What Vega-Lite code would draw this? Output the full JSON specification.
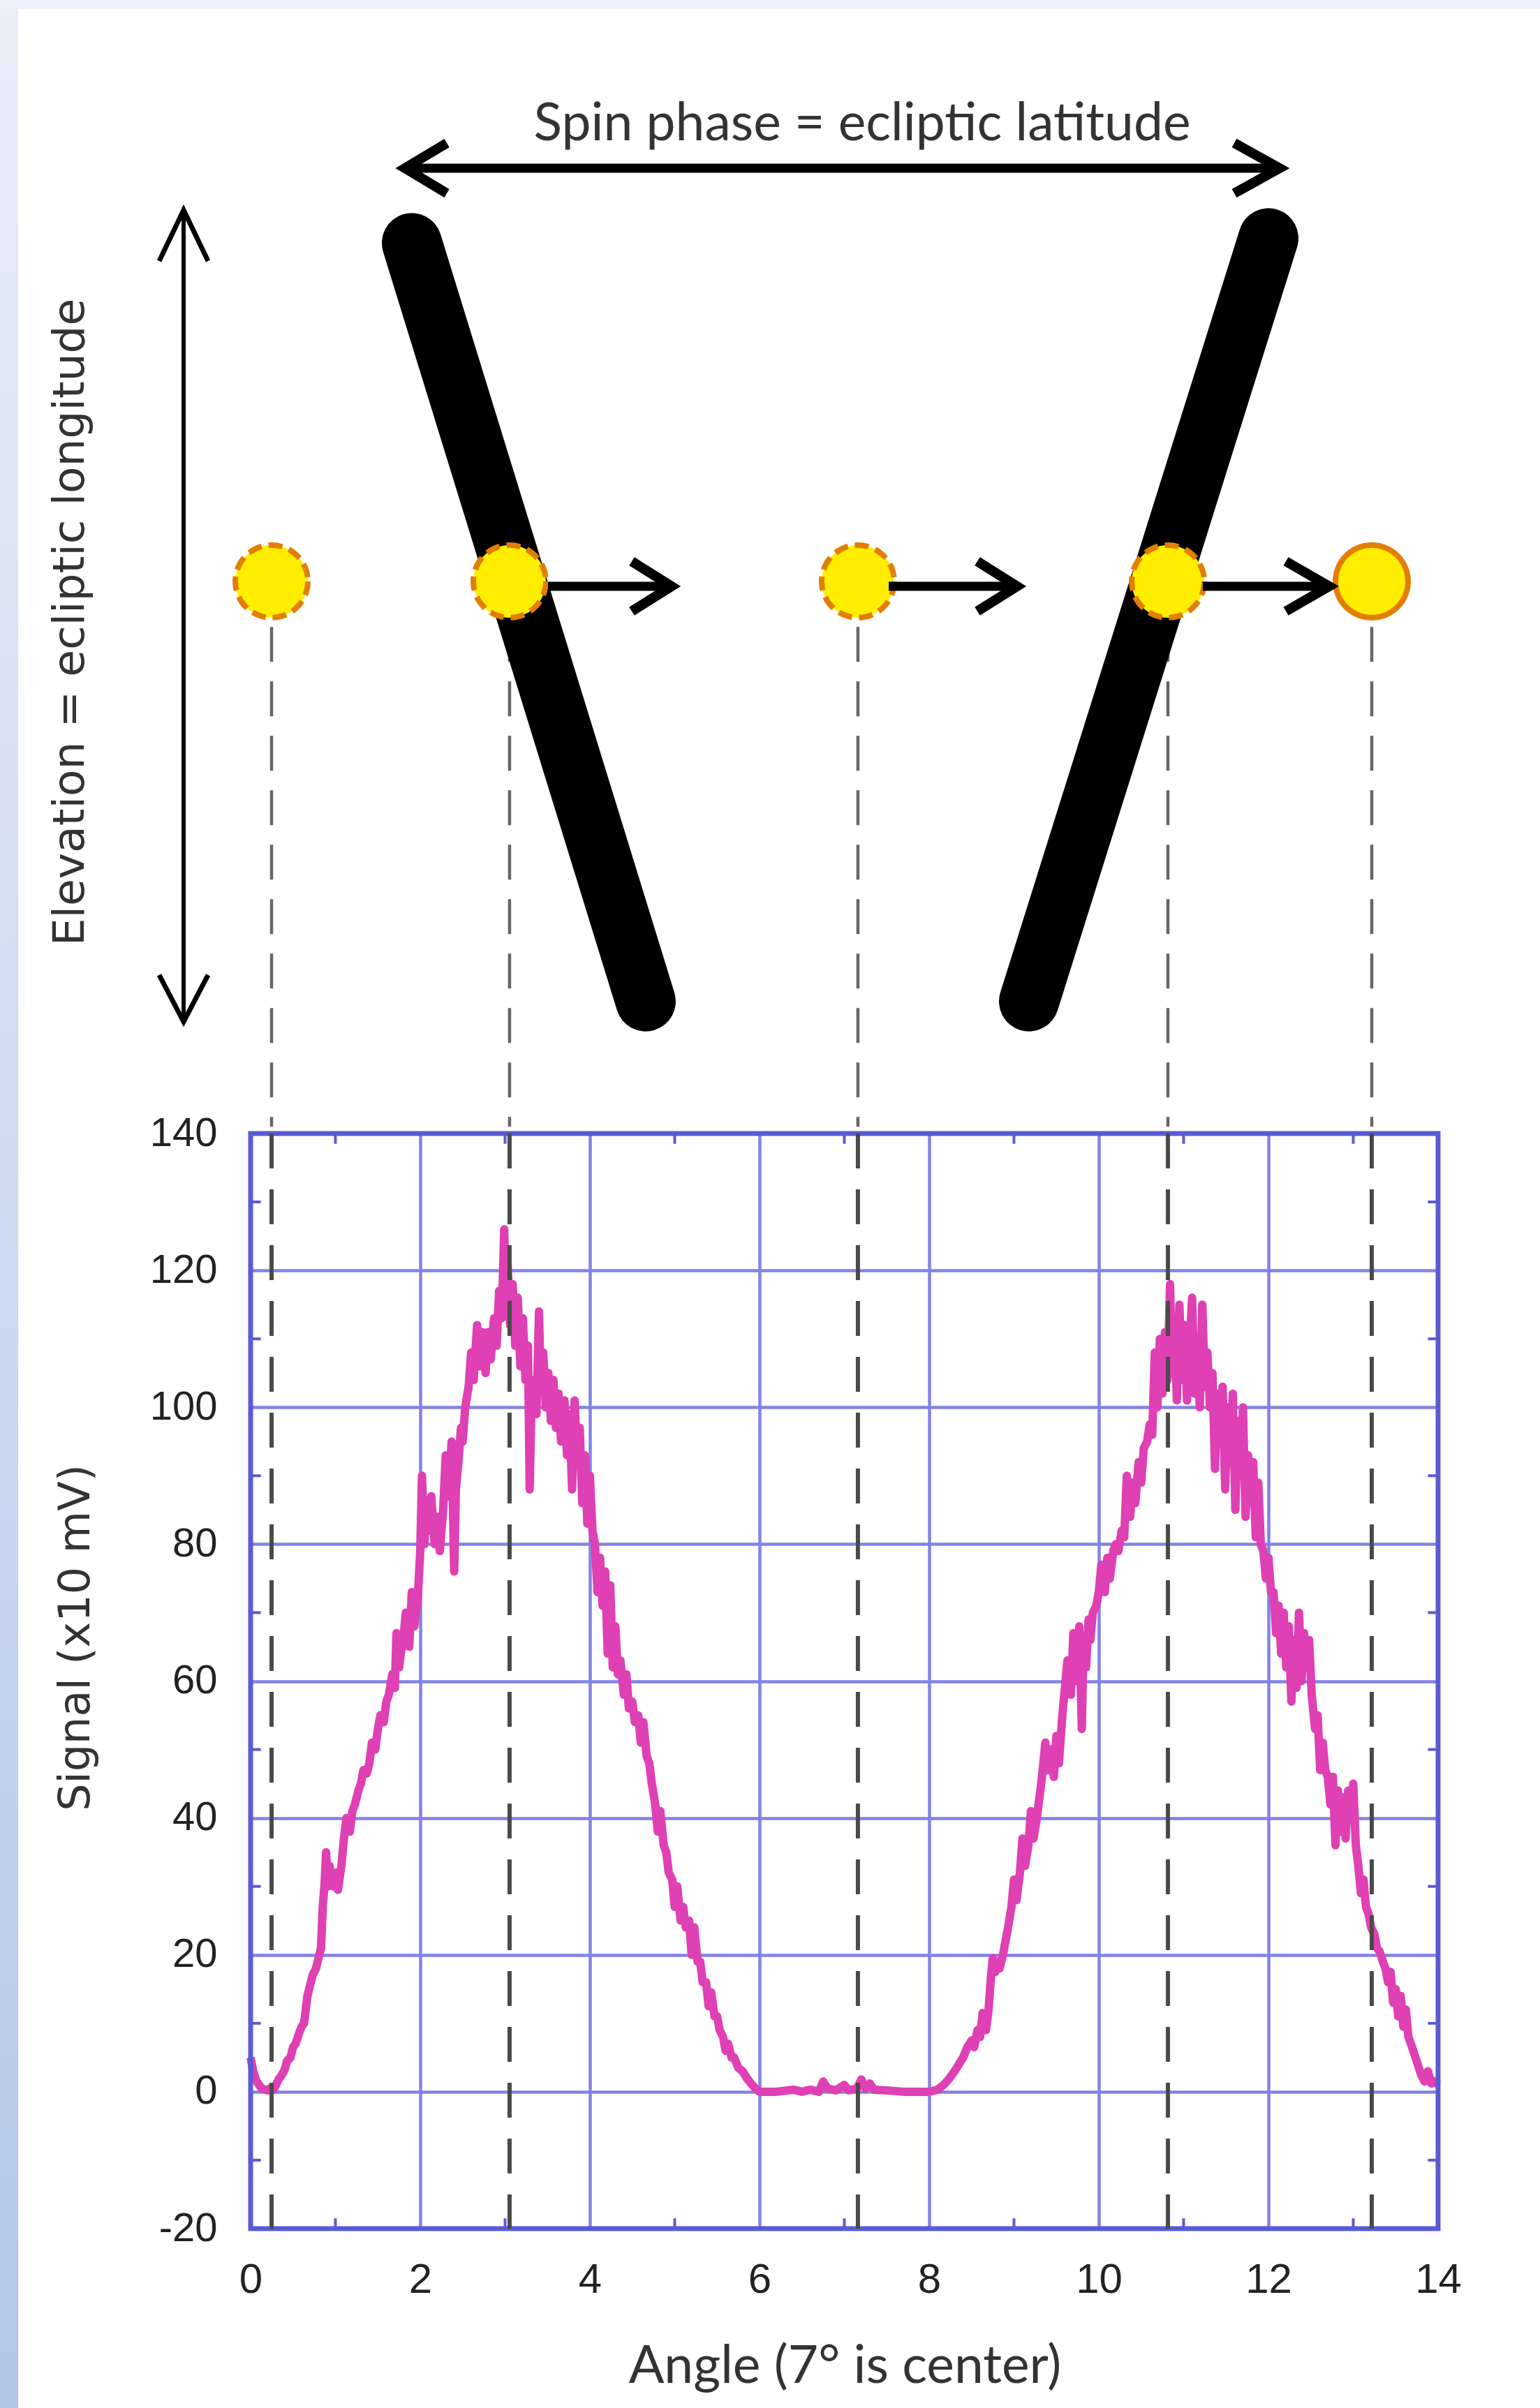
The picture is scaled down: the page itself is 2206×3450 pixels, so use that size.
{
  "$schema": "https://vega.github.io/schema/vega-lite/v6.json",
  "width": 1701,
  "height": 1569,
  "autosize": {"type": "none"},
  "padding": {"left": 359, "top": 1624, "right": 146, "bottom": 257},
  "background": "#ffffff",
  "config": {"view": {"stroke": null}},
  "datasets": {
    "signal": [
      {"angle":0,"signal":5},{"angle":0.03,"signal":3},{"angle":0.07,"signal":1.5},{"angle":0.1,"signal":1},{"angle":0.13,"signal":0.5},{"angle":0.17,"signal":0.3},{"angle":0.2,"signal":0.2},{"angle":0.23,"signal":0.5},{"angle":0.27,"signal":0.3},{"angle":0.3,"signal":1},{"angle":0.33,"signal":1.8},{"angle":0.37,"signal":2.5},{"angle":0.4,"signal":3.2},{"angle":0.43,"signal":4.5},{"angle":0.47,"signal":5},{"angle":0.5,"signal":6.5},{"angle":0.53,"signal":7},{"angle":0.57,"signal":8.5},{"angle":0.6,"signal":9.5},{"angle":0.63,"signal":10},{"angle":0.67,"signal":14},{"angle":0.7,"signal":15.5},{"angle":0.73,"signal":17},{"angle":0.77,"signal":18},{"angle":0.8,"signal":19.5},{"angle":0.83,"signal":21},{"angle":0.85,"signal":27},{"angle":0.87,"signal":30},{"angle":0.89,"signal":35},{"angle":0.91,"signal":30},{"angle":0.93,"signal":33},{"angle":0.97,"signal":30},
      {"angle":1,"signal":32},{"angle":1.03,"signal":29.5},{"angle":1.07,"signal":33},{"angle":1.1,"signal":37},{"angle":1.13,"signal":40},{"angle":1.17,"signal":38},{"angle":1.2,"signal":41},{"angle":1.23,"signal":42},{"angle":1.27,"signal":44},{"angle":1.3,"signal":45},{"angle":1.33,"signal":47},{"angle":1.37,"signal":46.5},{"angle":1.4,"signal":48},{"angle":1.43,"signal":51},{"angle":1.47,"signal":50},{"angle":1.5,"signal":53},{"angle":1.53,"signal":55},{"angle":1.57,"signal":54},{"angle":1.6,"signal":57},{"angle":1.63,"signal":58},{"angle":1.67,"signal":61},{"angle":1.7,"signal":59},{"angle":1.72,"signal":67},{"angle":1.75,"signal":62},{"angle":1.77,"signal":64},{"angle":1.8,"signal":66},{"angle":1.83,"signal":70},{"angle":1.87,"signal":65},{"angle":1.9,"signal":73},{"angle":1.93,"signal":68},{"angle":1.97,"signal":72},
      {"angle":2,"signal":79},{"angle":2.02,"signal":90},{"angle":2.05,"signal":80},{"angle":2.07,"signal":86},{"angle":2.1,"signal":82},{"angle":2.13,"signal":87},{"angle":2.17,"signal":80},{"angle":2.2,"signal":84},{"angle":2.23,"signal":79},{"angle":2.27,"signal":85},{"angle":2.3,"signal":93},{"angle":2.33,"signal":87},{"angle":2.37,"signal":95},{"angle":2.4,"signal":76},{"angle":2.42,"signal":88},{"angle":2.45,"signal":92},{"angle":2.48,"signal":97},{"angle":2.5,"signal":95},{"angle":2.53,"signal":100},{"angle":2.57,"signal":103},{"angle":2.6,"signal":108},{"angle":2.63,"signal":104},{"angle":2.67,"signal":112},{"angle":2.7,"signal":106},{"angle":2.73,"signal":111},{"angle":2.77,"signal":105},{"angle":2.8,"signal":111},{"angle":2.83,"signal":107},{"angle":2.87,"signal":113},{"angle":2.9,"signal":109},{"angle":2.93,"signal":117},{"angle":2.96,"signal":113},{"angle":2.99,"signal":126},
      {"angle":3.01,"signal":115},{"angle":3.03,"signal":121},{"angle":3.06,"signal":112},{"angle":3.09,"signal":118},{"angle":3.12,"signal":109},{"angle":3.15,"signal":116},{"angle":3.18,"signal":106},{"angle":3.21,"signal":113},{"angle":3.24,"signal":104},{"angle":3.27,"signal":109},{"angle":3.29,"signal":88},{"angle":3.31,"signal":100},{"angle":3.34,"signal":104},{"angle":3.37,"signal":99},{"angle":3.4,"signal":114},{"angle":3.42,"signal":103},{"angle":3.45,"signal":108},{"angle":3.48,"signal":100},{"angle":3.51,"signal":105},{"angle":3.54,"signal":98},{"angle":3.57,"signal":104},{"angle":3.6,"signal":97},{"angle":3.63,"signal":102},{"angle":3.66,"signal":95},{"angle":3.7,"signal":101},{"angle":3.73,"signal":93},{"angle":3.76,"signal":99},{"angle":3.79,"signal":88},{"angle":3.82,"signal":101},{"angle":3.85,"signal":92},{"angle":3.88,"signal":97},{"angle":3.91,"signal":86},{"angle":3.94,"signal":93},{"angle":3.97,"signal":83},
      {"angle":4,"signal":90},{"angle":4.03,"signal":82},{"angle":4.06,"signal":80},{"angle":4.09,"signal":73},{"angle":4.12,"signal":78},{"angle":4.15,"signal":71},{"angle":4.18,"signal":76},{"angle":4.21,"signal":64},{"angle":4.24,"signal":74},{"angle":4.27,"signal":62},{"angle":4.3,"signal":68},{"angle":4.33,"signal":61},{"angle":4.36,"signal":63},{"angle":4.4,"signal":58},{"angle":4.43,"signal":61},{"angle":4.46,"signal":56},{"angle":4.5,"signal":57},{"angle":4.53,"signal":54},{"angle":4.57,"signal":55},{"angle":4.6,"signal":51},{"angle":4.63,"signal":54},{"angle":4.67,"signal":49},{"angle":4.7,"signal":48},{"angle":4.73,"signal":45},{"angle":4.77,"signal":42},{"angle":4.8,"signal":38},{"angle":4.83,"signal":41},{"angle":4.87,"signal":36},{"angle":4.9,"signal":35},{"angle":4.93,"signal":32},{"angle":4.97,"signal":31},
      {"angle":5,"signal":27},{"angle":5.03,"signal":30},{"angle":5.07,"signal":25},{"angle":5.1,"signal":27},{"angle":5.13,"signal":24},{"angle":5.17,"signal":25},{"angle":5.2,"signal":20},{"angle":5.23,"signal":24},{"angle":5.27,"signal":19},{"angle":5.3,"signal":19},{"angle":5.33,"signal":16},{"angle":5.37,"signal":16},{"angle":5.4,"signal":12.5},{"angle":5.43,"signal":14.5},{"angle":5.47,"signal":11},{"angle":5.5,"signal":11},{"angle":5.53,"signal":9},{"angle":5.57,"signal":8},{"angle":5.6,"signal":6},{"angle":5.63,"signal":7},{"angle":5.67,"signal":5},{"angle":5.7,"signal":5},{"angle":5.75,"signal":3.5},{"angle":5.8,"signal":3},{"angle":5.85,"signal":2},{"angle":5.9,"signal":1.2},{"angle":5.95,"signal":0.5},
      {"angle":6,"signal":0},{"angle":6.2,"signal":0},{"angle":6.4,"signal":0.3},{"angle":6.5,"signal":0},{"angle":6.6,"signal":0.3},{"angle":6.7,"signal":0},{"angle":6.75,"signal":1.5},{"angle":6.8,"signal":0.5},{"angle":6.9,"signal":0.2},{"angle":7,"signal":1},{"angle":7.05,"signal":0.2},{"angle":7.15,"signal":0.5},{"angle":7.2,"signal":1.8},{"angle":7.25,"signal":0.5},{"angle":7.3,"signal":1.2},{"angle":7.35,"signal":0.3},{"angle":7.5,"signal":0.2},{"angle":7.7,"signal":0},{"angle":7.9,"signal":0},
      {"angle":8,"signal":0},{"angle":8.1,"signal":0.3},{"angle":8.17,"signal":1},{"angle":8.23,"signal":1.8},{"angle":8.3,"signal":3},{"angle":8.35,"signal":4},{"angle":8.4,"signal":5},{"angle":8.45,"signal":6.5},{"angle":8.5,"signal":7.5},{"angle":8.53,"signal":6.5},{"angle":8.57,"signal":9},{"angle":8.6,"signal":8},{"angle":8.63,"signal":11.5},{"angle":8.67,"signal":9},{"angle":8.7,"signal":12},{"angle":8.73,"signal":17},{"angle":8.75,"signal":19.5},{"angle":8.78,"signal":17.5},{"angle":8.8,"signal":19},{"angle":8.83,"signal":18},{"angle":8.87,"signal":20},{"angle":8.9,"signal":22},{"angle":8.93,"signal":24},{"angle":8.97,"signal":27},
      {"angle":9,"signal":31},{"angle":9.03,"signal":28},{"angle":9.07,"signal":32},{"angle":9.1,"signal":37},{"angle":9.13,"signal":33},{"angle":9.17,"signal":36},{"angle":9.2,"signal":41},{"angle":9.23,"signal":37},{"angle":9.27,"signal":40},{"angle":9.3,"signal":43},{"angle":9.33,"signal":46},{"angle":9.37,"signal":51},{"angle":9.4,"signal":47},{"angle":9.43,"signal":50},{"angle":9.47,"signal":46},{"angle":9.5,"signal":52},{"angle":9.53,"signal":48},{"angle":9.57,"signal":55},{"angle":9.6,"signal":59},{"angle":9.63,"signal":63},{"angle":9.67,"signal":58},{"angle":9.7,"signal":67},{"angle":9.73,"signal":60},{"angle":9.77,"signal":68},{"angle":9.8,"signal":53},{"angle":9.82,"signal":66},{"angle":9.85,"signal":62},{"angle":9.88,"signal":69},{"angle":9.9,"signal":66},{"angle":9.93,"signal":70},{"angle":9.97,"signal":71},
      {"angle":10,"signal":73},{"angle":10.03,"signal":77},{"angle":10.07,"signal":73},{"angle":10.1,"signal":78},{"angle":10.13,"signal":75},{"angle":10.17,"signal":79},{"angle":10.2,"signal":80},{"angle":10.23,"signal":79},{"angle":10.27,"signal":82},{"angle":10.3,"signal":81},{"angle":10.33,"signal":90},{"angle":10.37,"signal":84},{"angle":10.4,"signal":89},{"angle":10.43,"signal":86},{"angle":10.47,"signal":92},{"angle":10.5,"signal":89},{"angle":10.53,"signal":94},{"angle":10.57,"signal":95},{"angle":10.6,"signal":97.5},{"angle":10.63,"signal":96},{"angle":10.66,"signal":108},{"angle":10.69,"signal":100},{"angle":10.72,"signal":110},{"angle":10.75,"signal":102},{"angle":10.78,"signal":111},{"angle":10.81,"signal":104},{"angle":10.84,"signal":118},{"angle":10.86,"signal":106},{"angle":10.89,"signal":113},{"angle":10.92,"signal":101},{"angle":10.95,"signal":115},{"angle":10.98,"signal":104},
      {"angle":11.01,"signal":112},{"angle":11.04,"signal":101},{"angle":11.07,"signal":109},{"angle":11.1,"signal":116},{"angle":11.13,"signal":102},{"angle":11.16,"signal":110},{"angle":11.19,"signal":100},{"angle":11.22,"signal":115},{"angle":11.25,"signal":103},{"angle":11.28,"signal":108},{"angle":11.31,"signal":100},{"angle":11.34,"signal":105},{"angle":11.37,"signal":91},{"angle":11.4,"signal":102},{"angle":11.43,"signal":96},{"angle":11.46,"signal":103},{"angle":11.49,"signal":88},{"angle":11.52,"signal":100},{"angle":11.55,"signal":92},{"angle":11.58,"signal":102},{"angle":11.61,"signal":85},{"angle":11.64,"signal":98},{"angle":11.67,"signal":90},{"angle":11.7,"signal":100},{"angle":11.73,"signal":84},{"angle":11.76,"signal":93},{"angle":11.79,"signal":86},{"angle":11.82,"signal":92},{"angle":11.85,"signal":81},{"angle":11.88,"signal":89},{"angle":11.91,"signal":80},{"angle":11.94,"signal":79},{"angle":11.97,"signal":75},
      {"angle":12,"signal":78},{"angle":12.03,"signal":73},{"angle":12.06,"signal":73},{"angle":12.09,"signal":67},{"angle":12.12,"signal":71},{"angle":12.15,"signal":64},{"angle":12.18,"signal":70},{"angle":12.21,"signal":62},{"angle":12.24,"signal":68},{"angle":12.27,"signal":57},{"angle":12.3,"signal":66},{"angle":12.33,"signal":59},{"angle":12.36,"signal":70},{"angle":12.39,"signal":60},{"angle":12.42,"signal":67},{"angle":12.45,"signal":62},{"angle":12.48,"signal":66},{"angle":12.51,"signal":58},{"angle":12.55,"signal":53},{"angle":12.58,"signal":55},{"angle":12.61,"signal":47},{"angle":12.64,"signal":51},{"angle":12.67,"signal":47},{"angle":12.7,"signal":46},{"angle":12.73,"signal":42},{"angle":12.76,"signal":46},{"angle":12.79,"signal":36},{"angle":12.82,"signal":44},{"angle":12.85,"signal":38},{"angle":12.88,"signal":43},{"angle":12.91,"signal":37},{"angle":12.94,"signal":44},{"angle":12.97,"signal":40},
      {"angle":13,"signal":45},{"angle":13.03,"signal":36},{"angle":13.06,"signal":33},{"angle":13.09,"signal":29},{"angle":13.12,"signal":31},{"angle":13.15,"signal":27},{"angle":13.18,"signal":26},{"angle":13.21,"signal":24},{"angle":13.25,"signal":23},{"angle":13.28,"signal":21},{"angle":13.31,"signal":20.5},{"angle":13.35,"signal":19},{"angle":13.38,"signal":18},{"angle":13.41,"signal":16},{"angle":13.44,"signal":17.5},{"angle":13.47,"signal":13},{"angle":13.5,"signal":15},{"angle":13.53,"signal":11},{"angle":13.56,"signal":14},{"angle":13.59,"signal":9.5},{"angle":13.62,"signal":12},{"angle":13.65,"signal":8},{"angle":13.68,"signal":7},{"angle":13.72,"signal":5.5},{"angle":13.76,"signal":4},{"angle":13.8,"signal":2.5},{"angle":13.84,"signal":1.5},{"angle":13.88,"signal":3},{"angle":13.92,"signal":1.2},{"angle":13.96,"signal":1.5},{"angle":14,"signal":1}
    ],
    "leftStrip": [{"x": -2.96, "x2": -2.74, "y": 306, "y2": -47}],
    "topStrip": [{"x": -2.96, "x2": 15.3, "y": 306, "y2": 304.3}],
    "vTicks": [
      {"x":1,"y":-20,"y2":-18.5},{"x":3,"y":-20,"y2":-18.5},{"x":5,"y":-20,"y2":-18.5},{"x":7,"y":-20,"y2":-18.5},{"x":9,"y":-20,"y2":-18.5},{"x":11,"y":-20,"y2":-18.5},{"x":13,"y":-20,"y2":-18.5},
      {"x":1,"y":140,"y2":138.5},{"x":3,"y":140,"y2":138.5},{"x":5,"y":140,"y2":138.5},{"x":7,"y":140,"y2":138.5},{"x":9,"y":140,"y2":138.5},{"x":11,"y":140,"y2":138.5},{"x":13,"y":140,"y2":138.5}
    ],
    "hTicks": [
      {"x":0,"x2":0.12,"y":-10},{"x":0,"x2":0.12,"y":10},{"x":0,"x2":0.12,"y":30},{"x":0,"x2":0.12,"y":50},{"x":0,"x2":0.12,"y":70},{"x":0,"x2":0.12,"y":90},{"x":0,"x2":0.12,"y":110},{"x":0,"x2":0.12,"y":130},
      {"x":14,"x2":13.88,"y":-10},{"x":14,"x2":13.88,"y":10},{"x":14,"x2":13.88,"y":30},{"x":14,"x2":13.88,"y":50},{"x":14,"x2":13.88,"y":70},{"x":14,"x2":13.88,"y":90},{"x":14,"x2":13.88,"y":110},{"x":14,"x2":13.88,"y":130}
    ],
    "frame": [{"x": 0, "x2": 14, "y": -20, "y2": 140}],
    "guides": [{"x": 0.247}, {"x": 3.053}, {"x": 7.16}, {"x": 10.815}, {"x": 13.218}],
    "bars": [
      {"x": 1.901, "y": 270.1, "x2": 4.658, "y2": 159.3},
      {"x": 12.0, "y": 270.8, "x2": 9.177, "y2": 159.3}
    ],
    "circles": [
      {"x": 0.247, "y": 220.67, "rim": "dashed"},
      {"x": 3.053, "y": 220.67, "rim": "dashed"},
      {"x": 7.16, "y": 220.67, "rim": "dashed"},
      {"x": 10.815, "y": 220.67, "rim": "dashed"},
      {"x": 13.218, "y": 220.67, "rim": "solid"}
    ],
    "shafts": [
      {"x": 1.82, "x2": 12.13, "y": 281.04},
      {"x": 3.506, "x2": 4.905, "y": 219.95},
      {"x": 7.523, "x2": 8.979, "y": 219.95},
      {"x": 11.226, "x2": 12.658, "y": 219.95}
    ],
    "vShaft": [{"x": -0.79, "y": 274.9, "y2": 156.3}],
    "heads": [
      {"g":"t1","o":1,"x":2.313,"y":284.71},{"g":"t1","o":2,"x":1.819,"y":281.04},{"g":"t1","o":3,"x":2.313,"y":277.37},
      {"g":"t2","o":1,"x":11.597,"y":284.71},{"g":"t2","o":2,"x":12.132,"y":281.04},{"g":"t2","o":3,"x":11.597,"y":277.37},
      {"g":"a2","o":1,"x":4.494,"y":223.6},{"g":"a2","o":2,"x":4.963,"y":219.95},{"g":"a2","o":3,"x":4.494,"y":216.3},
      {"g":"a3","o":1,"x":8.568,"y":223.6},{"g":"a3","o":2,"x":9.037,"y":219.95},{"g":"a3","o":3,"x":8.568,"y":216.3},
      {"g":"a4","o":1,"x":12.206,"y":223.6},{"g":"a4","o":2,"x":12.716,"y":219.95},{"g":"a4","o":3,"x":12.206,"y":216.3}
    ],
    "vHeads": [
      {"g":"v1","o":1,"x":-1.078,"y":267.47},{"g":"v1","o":2,"x":-0.79,"y":274.92},{"g":"v1","o":3,"x":-0.502,"y":267.47},
      {"g":"v2","o":1,"x":-1.078,"y":163.15},{"g":"v2","o":2,"x":-0.79,"y":156.32},{"g":"v2","o":3,"x":-0.502,"y":163.15}
    ],
    "topLabel": [{"x": 7.21, "y": 285.1, "text": "Spin phase = ecliptic latitude"}],
    "sideLabel": [{"x": -2.123, "y": 214.7, "text": "Elevation = ecliptic longitude"}]
  },
  "layer": [
    {
      "data": {"name": "signal"},
      "mark": {"type": "line", "color": "#DF40B3", "strokeWidth": 12, "strokeJoin": "round"},
      "encoding": {
        "x": {
          "field": "angle", "type": "quantitative",
          "scale": {"domain": [0, 14], "nice": false, "zero": false},
          "axis": {
            "values": [0, 2, 4, 6, 8, 10, 12, 14], "format": "d",
            "grid": true, "gridColor": "#8282E6", "gridWidth": 4.5,
            "domain": false, "ticks": false,
            "labelPadding": 44, "labelFont": "Liberation Sans", "labelFontSize": 60, "labelColor": "#222222",
            "labelFlush": false, "labelOverlap": false,
            "title": "Angle (7° is center)", "titleFont": "Lato", "titleFontSize": 75,
            "titleFontWeight": "normal", "titleColor": "#333333",
            "titleX": 851, "titleY": 220, "titleBaseline": "alphabetic", "titleAlign": "center"
          }
        },
        "y": {
          "field": "signal", "type": "quantitative",
          "scale": {"domain": [-20, 140], "nice": false, "zero": false},
          "axis": {
            "values": [-20, 0, 20, 40, 60, 80, 100, 120, 140],
            "labelExpr": "'' + datum.value",
            "grid": true, "gridColor": "#8282E6", "gridWidth": 4.5,
            "domain": false, "ticks": false,
            "labelPadding": 48, "labelFont": "Liberation Sans", "labelFontSize": 58, "labelColor": "#222222",
            "labelFlush": false, "labelOverlap": false,
            "title": "Signal (x10 mV)", "titleFont": "DejaVu Sans", "titleFontSize": 62,
            "titleFontWeight": "normal", "titleColor": "#333333",
            "titleX": -251, "titleY": 722, "titleAngle": 270, "titleAlign": "center", "titleBaseline": "middle"
          }
        }
      }
    },
    {
      "data": {"name": "leftStrip"},
      "mark": {"type": "rect", "fill": {"gradient": "linear", "x1": 0, "y1": 0, "x2": 0, "y2": 1, "stops": [{"offset": 0, "color": "#E9EEF8"}, {"offset": 1, "color": "#B3C6E8"}]}},
      "encoding": {
        "x": {"field": "x", "type": "quantitative"}, "x2": {"field": "x2"},
        "y": {"field": "y", "type": "quantitative"}, "y2": {"field": "y2"}
      }
    },
    {
      "data": {"name": "topStrip"},
      "mark": {"type": "rect", "fill": "#EBF0F9"},
      "encoding": {
        "x": {"field": "x", "type": "quantitative"}, "x2": {"field": "x2"},
        "y": {"field": "y", "type": "quantitative"}, "y2": {"field": "y2"}
      }
    },
    {
      "data": {"name": "vTicks"},
      "mark": {"type": "rule", "color": "#5A5AD2", "strokeWidth": 4},
      "encoding": {
        "x": {"field": "x", "type": "quantitative"},
        "y": {"field": "y", "type": "quantitative"}, "y2": {"field": "y2"}
      }
    },
    {
      "data": {"name": "hTicks"},
      "mark": {"type": "rule", "color": "#5A5AD2", "strokeWidth": 4},
      "encoding": {
        "x": {"field": "x", "type": "quantitative"}, "x2": {"field": "x2"},
        "y": {"field": "y", "type": "quantitative"}
      }
    },
    {
      "data": {"name": "frame"},
      "mark": {"type": "rect", "fillOpacity": 0, "stroke": "#5A5AD4", "strokeWidth": 7},
      "encoding": {
        "x": {"field": "x", "type": "quantitative"}, "x2": {"field": "x2"},
        "y": {"field": "y", "type": "quantitative"}, "y2": {"field": "y2"}
      }
    },
    {
      "data": {"name": "guides"},
      "mark": {"type": "rule", "color": "#4A4A4A", "strokeWidth": 6, "strokeDash": [50, 30]},
      "encoding": {
        "x": {"field": "x", "type": "quantitative"},
        "y": {"datum": 140}, "y2": {"datum": -20}
      }
    },
    {
      "data": {"name": "guides"},
      "mark": {"type": "rule", "color": "#666666", "strokeWidth": 4.5, "strokeDash": [50, 28]},
      "encoding": {
        "x": {"field": "x", "type": "quantitative"},
        "y": {"datum": 214}, "y2": {"datum": 141}
      }
    },
    {
      "data": {"name": "bars"},
      "mark": {"type": "rule", "color": "#000000", "strokeWidth": 86, "strokeCap": "round"},
      "encoding": {
        "x": {"field": "x", "type": "quantitative"}, "x2": {"field": "x2"},
        "y": {"field": "y", "type": "quantitative"}, "y2": {"field": "y2"}
      }
    },
    {
      "data": {"name": "circles"},
      "mark": {"type": "circle", "size": 10800, "fill": "#FFEE00", "stroke": "#E37E00", "strokeWidth": 8, "opacity": 1, "fillOpacity": 1},
      "encoding": {
        "x": {"field": "x", "type": "quantitative"},
        "y": {"field": "y", "type": "quantitative"},
        "strokeDash": {"field": "rim", "type": "nominal", "scale": {"domain": ["dashed", "solid"], "range": [[20, 10], [1, 0]]}, "legend": null}
      }
    },
    {
      "data": {"name": "shafts"},
      "mark": {"type": "rule", "color": "#000000", "strokeWidth": 13},
      "encoding": {
        "x": {"field": "x", "type": "quantitative"}, "x2": {"field": "x2"},
        "y": {"field": "y", "type": "quantitative"}
      }
    },
    {
      "data": {"name": "vShaft"},
      "mark": {"type": "rule", "color": "#000000", "strokeWidth": 6},
      "encoding": {
        "x": {"field": "x", "type": "quantitative"},
        "y": {"field": "y", "type": "quantitative"}, "y2": {"field": "y2"}
      }
    },
    {
      "data": {"name": "heads"},
      "mark": {"type": "line", "color": "#000000", "strokeWidth": 14, "strokeJoin": "miter", "strokeCap": "butt"},
      "encoding": {
        "x": {"field": "x", "type": "quantitative"},
        "y": {"field": "y", "type": "quantitative"},
        "detail": {"field": "g", "type": "nominal"},
        "order": {"field": "o", "type": "quantitative"}
      }
    },
    {
      "data": {"name": "vHeads"},
      "mark": {"type": "line", "color": "#000000", "strokeWidth": 7, "strokeJoin": "miter", "strokeCap": "butt"},
      "encoding": {
        "x": {"field": "x", "type": "quantitative"},
        "y": {"field": "y", "type": "quantitative"},
        "detail": {"field": "g", "type": "nominal"},
        "order": {"field": "o", "type": "quantitative"}
      }
    },
    {
      "data": {"name": "topLabel"},
      "mark": {"type": "text", "font": "Lato", "fontSize": 75, "color": "#333333", "align": "center", "baseline": "alphabetic"},
      "encoding": {
        "x": {"field": "x", "type": "quantitative"},
        "y": {"field": "y", "type": "quantitative"},
        "text": {"field": "text"}
      }
    },
    {
      "data": {"name": "sideLabel"},
      "mark": {"type": "text", "font": "DejaVu Sans", "fontSize": 63, "color": "#333333", "align": "center", "baseline": "middle", "angle": 270},
      "encoding": {
        "x": {"field": "x", "type": "quantitative"},
        "y": {"field": "y", "type": "quantitative"},
        "text": {"field": "text"}
      }
    }
  ]
}
